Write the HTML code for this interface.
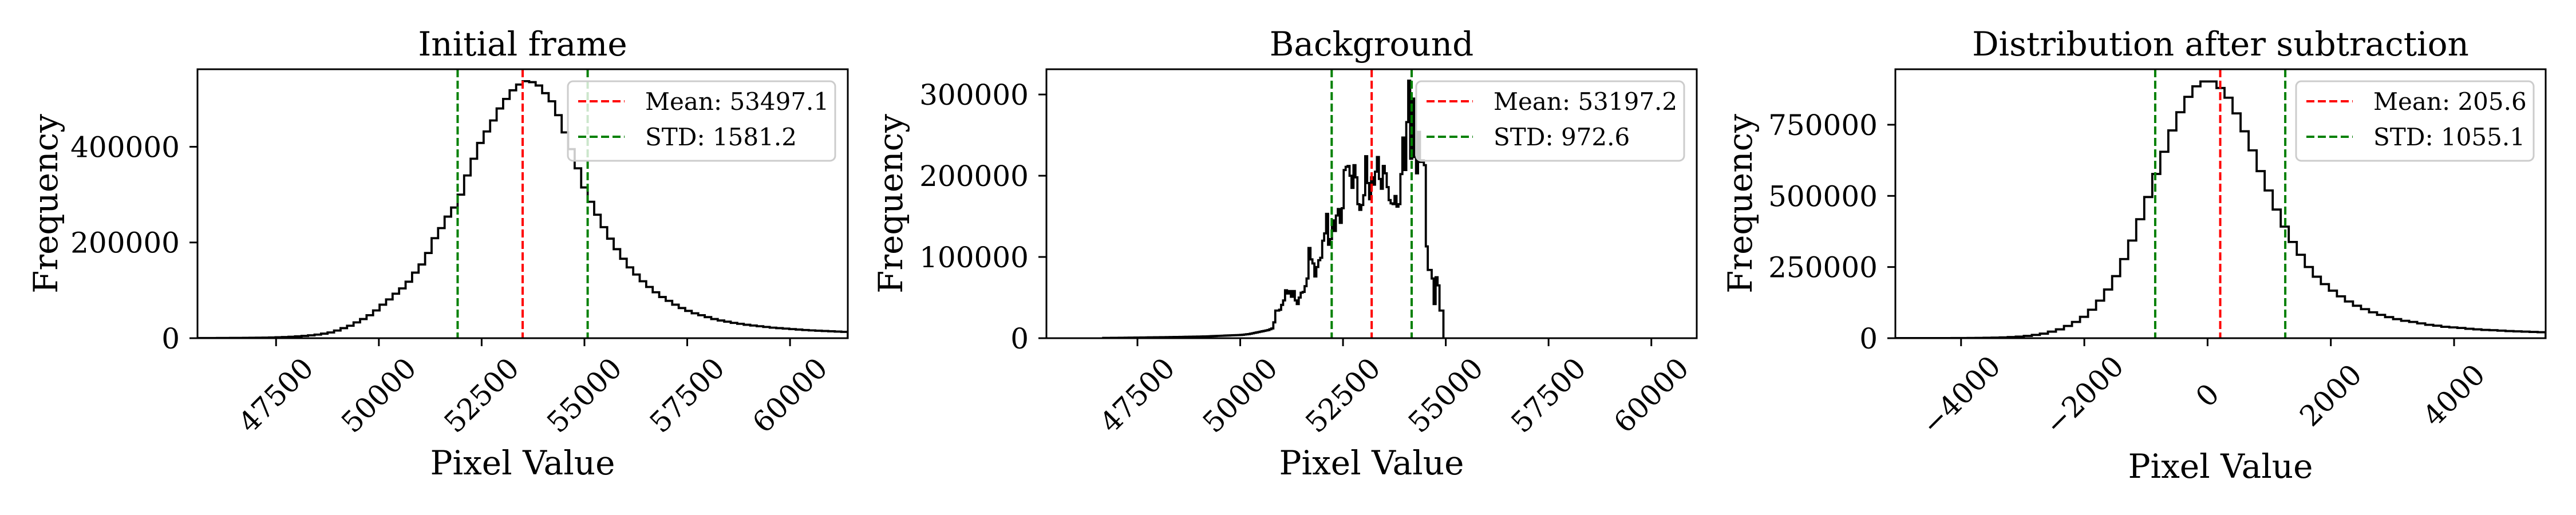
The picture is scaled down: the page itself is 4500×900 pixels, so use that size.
<!DOCTYPE html>
<html><head><meta charset="utf-8"><style>
html,body{margin:0;padding:0;background:#fff;}
svg{display:block;font-family:"DejaVu Serif","Liberation Serif",serif;}
</style></head><body>
<svg id="fig" xmlns="http://www.w3.org/2000/svg" width="4500" height="900" viewBox="0 0 4500 900"></svg>
<script>
// ---------- Panel 1: Initial frame ----------
const p1Start = 45589, p1End = 61405;
const p1Counts = [0.2,0.25,0.3,0.35,0.4,0.5,0.6,0.7,0.8,1.0,1.2,1.5,1.9,2.4,3.0,3.8,4.8,6.0,7.5,9.5,12,16,21,26,33,40,48,58,70,81,93,104,118,137,154,178,209,230,254,273,
300,340,375,408,432,455,480,500,518,530,537,535,528,512,495,466,430,395,355,315,285,258,232,208,186,166,148,133,119,107,96,86,78,70,63,57,52,48,44,40,37,34.5,32,30,28,26.5,25,23.5,22,21,20,19,18,17,16.3,15.6,15,14.4,13.8,13.2];
const p1Mean = 53497.1, p1Std = 1581.2;
const p1XTicks = [47500,50000,52500,55000,57500,60000];
const p1XTickLabels = ["47500","50000","52500","55000","57500","60000"];
const p1YTicks = [0,200000,400000];
const p1YTickLabels = ["0","200000","400000"];

// ---------- Panel 2: Background ----------
const p2Start = 46667, p2Width = 47.56;
const p2Counts = [0.3,0.3,0.35,0.35,0.4,0.4,0.45,0.45,0.5,0.5,0.55,0.6,0.6,0.65,0.7,0.7,0.75,0.8,0.8,0.85,0.9,0.9,0.95,1.0,1.0,1.05,1.1,1.1,1.15,1.2,1.2,1.25,1.3,1.3,1.35,1.4,1.45,1.5,1.5,1.55,1.6,1.65,1.7,1.75,1.8,1.85,1.9,1.95,2.0,2.05,2.1,2.15,2.2,2.3,2.4,2.5,2.6,2.7,2.8,2.9,3.0,3.1,3.2,3.3,3.4,3.5,3.6,3.7,3.8,3.9,4.0,4.2,4.5,4.8,
5,5.5,6,6.5,7,7.5,8,8.5,9,9.5,10,11,12,19.5,34,34,35,41,46.5,59,55,58,51,58,46.5,42,50,56,57,64,73.5,111,97,92,76,87.6,96,99,120,129,153,115,122,145,132,151,159,142,160,207,211,212,200,185,213,198,165,158,164,176,224,191,171,198,189,205,223,196,184,212,203,186,170,166,165,175,162,165,202,247,207,266,317,221,295,223,203,254,217,219,213,113,84,84,73.5,42,75,65,34,34];
const p2Mean = 53197.2, p2Std = 972.6;
const p2XTicks = [47500,50000,52500,55000,57500,60000];
const p2XTickLabels = ["47500","50000","52500","55000","57500","60000"];
const p2YTicks = [0,100000,200000,300000];
const p2YTickLabels = ["0","100000","200000","300000"];

// ---------- Panel 3: Distribution after subtraction ----------
const p3Start = -5066, p3End = 5486;
const p3Counts = [0.1,0.1,0.1,0.15,0.2,0.25,0.3,0.4,0.5,0.7,1.0,1.4,2.0,2.8,4.0,5.5,8.0,11.5,16,23,31,43,57,75,100,132,171,218,278,343,418,496,577,655,730,794,848,885,902,902,879,845,790,727,660,587,519,452,392,338,293,250,216,190,167,147,129,114,102,91,82,74,67,61,57,52,47,44,40,38,36,33,31,29,28,26.5,25,24,23,22,21];
const p3Mean = 205.6, p3Std = 1055.1;
const p3XTicks = [-4000,-2000,0,2000,4000];
const p3XTickLabels = ["\u22124000","\u22122000","0","2000","4000"];
const p3YTicks = [0,250000,500000,750000];
const p3YTickLabels = ["0","250000","500000","750000"];

const NS = "http://www.w3.org/2000/svg";
const svg = document.getElementById("fig");
function mk(tag, attrs, parent){const e=document.createElementNS(NS,tag);for(const k in attrs)e.setAttribute(k,attrs[k]);(parent||svg).appendChild(e);return e;}

const AX_TOP = 121, AX_BOT = 591, AX_W = 1136;

function panel(cfg){
  const g = mk("g", {});
  
  
  const L = cfg.left;
  const xs = v => L + (v - cfg.xmin) / (cfg.xmax - cfg.xmin) * AX_W;
  const ys = v => AX_BOT - v / cfg.ymax * (AX_BOT - AX_TOP);
  let d = "M" + xs(cfg.start) + "," + ys(0);
  cfg.counts.forEach((c,i)=>{
    const y = ys(c*1000);
    d += " L" + xs(cfg.start + i*cfg.width) + "," + y + " L" + xs(cfg.start + (i+1)*cfg.width) + "," + y;
  });
  d += " L" + xs(cfg.start + cfg.counts.length*cfg.width) + "," + ys(0);
  const clip = mk("clipPath", {id: "clip-"+cfg.name}, g);
  mk("rect", {x:L, y:AX_TOP, width:AX_W, height:AX_BOT-AX_TOP}, clip);
  const hist = mk("path", {d:d, fill:"none", stroke:"#000", "stroke-width":3.8, "stroke-linejoin":"miter", "clip-path":"url(#clip-"+cfg.name+")"}, g);
  
  
  const vl = [[cfg.mean-cfg.std,"#008000","std-line-low"],[cfg.mean,"#ff0000","mean-line"],[cfg.mean+cfg.std,"#008000","std-line-high"]];
  vl.forEach(([v,col,nm])=>{
    const ln = mk("line", {x1:xs(v), x2:xs(v), y1:AX_TOP, y2:AX_BOT, stroke:col, "stroke-width":4, "stroke-dasharray":"14,6"}, g);
    
    
  });
  const fr = mk("rect", {x:L, y:AX_TOP, width:AX_W, height:AX_BOT-AX_TOP, fill:"none", stroke:"#000", "stroke-width":3}, g);
  
  
  cfg.xticks.forEach((v,i)=>{
    const x = xs(v);
    const t = mk("line", {x1:x, x2:x, y1:AX_BOT, y2:AX_BOT+14, stroke:"#000", "stroke-width":3}, g);
    
    
    const lab = mk("text", {x:x, y:cfg.xlabY, "font-size":50, "text-anchor":"middle", "dominant-baseline":"central", transform:"rotate(-45 "+x+" "+cfg.xlabY+")"}, g);
    lab.textContent = cfg.xlabels[i];
    
    
  });
  cfg.yticks.forEach((v,i)=>{
    const y = ys(v);
    const t = mk("line", {x1:L-14, x2:L, y1:y, y2:y, stroke:"#000", "stroke-width":3}, g);
    
    
    const lab = mk("text", {x:L-31, y:y+18, "font-size":50, "text-anchor":"end"}, g);
    lab.textContent = cfg.ylabels[i];
    
    
  });
  const ti = mk("text", {x:L+AX_W/2, y:97, "font-size":58, "text-anchor":"middle"}, g);
  ti.textContent = cfg.title;
  
  
  const xl = mk("text", {x:L+AX_W/2, y:cfg.xtitleY, "font-size":58, "text-anchor":"middle"}, g);
  xl.textContent = "Pixel Value";
  
  
  const yl = mk("text", {x:cfg.ytitleX, y:356, "font-size":58, "text-anchor":"middle", transform:"rotate(-90 "+cfg.ytitleX+" 356)"}, g);
  yl.textContent = "Frequency";
  
  
  const lg = mk("g", {}, g);
  
  
  mk("rect", {x:cfg.leg[0], y:142, width:cfg.leg[1]-cfg.leg[0], height:139, rx:9, fill:"rgba(255,255,255,0.8)", stroke:"#cccccc", "stroke-width":3}, lg);
  [["#ff0000","Mean: "+cfg.mean.toFixed(1),177,"legend-entry-mean"],["#008000","STD: "+cfg.std.toFixed(1),239,"legend-entry-std"]].forEach(([col,txt,y,nm])=>{
    const e = mk("g", {}, lg);
    
    
    mk("line", {x1:cfg.leg[0]+18, x2:cfg.leg[0]+99, y1:y, y2:y, stroke:col, "stroke-width":4, "stroke-dasharray":"14,6"}, e);
    const tx = mk("text", {x:cfg.leg[0]+135, y:y+15, "font-size":42}, e);
    tx.textContent = txt;
  });
}

panel({name:"panel-initial-frame", left:345, xmin:p1Start, xmax:p1End, ymax:562000,
  counts:p1Counts, start:p1Start, width:(p1End-p1Start)/p1Counts.length,
  mean:p1Mean, std:p1Std, xticks:p1XTicks, xlabels:p1XTickLabels, yticks:p1YTicks, ylabels:p1YTickLabels,
  title:"Initial frame", xlabY:691, xtitleY:829, ytitleX:100, leg:[992,1459]});
panel({name:"panel-background", left:1828, xmin:45286, xmax:61104, ymax:331100,
  counts:p2Counts, start:p2Start, width:p2Width,
  mean:p2Mean, std:p2Std, xticks:p2XTicks, xlabels:p2XTickLabels, yticks:p2YTicks, ylabels:p2YTickLabels,
  title:"Background", xlabY:691, xtitleY:829, ytitleX:1576, leg:[2474,2942]});
panel({name:"panel-after-subtraction", left:3311, xmin:p3Start, xmax:p3End, ymax:945000,
  counts:p3Counts, start:p3Start, width:(p3End-p3Start)/p3Counts.length,
  mean:p3Mean, std:p3Std, xticks:p3XTicks, xlabels:p3XTickLabels, yticks:p3YTicks, ylabels:p3YTickLabels,
  title:"Distribution after subtraction", xlabY:691, xtitleY:835, ytitleX:3060, leg:[4011,4426]});
</script>
</body></html>
